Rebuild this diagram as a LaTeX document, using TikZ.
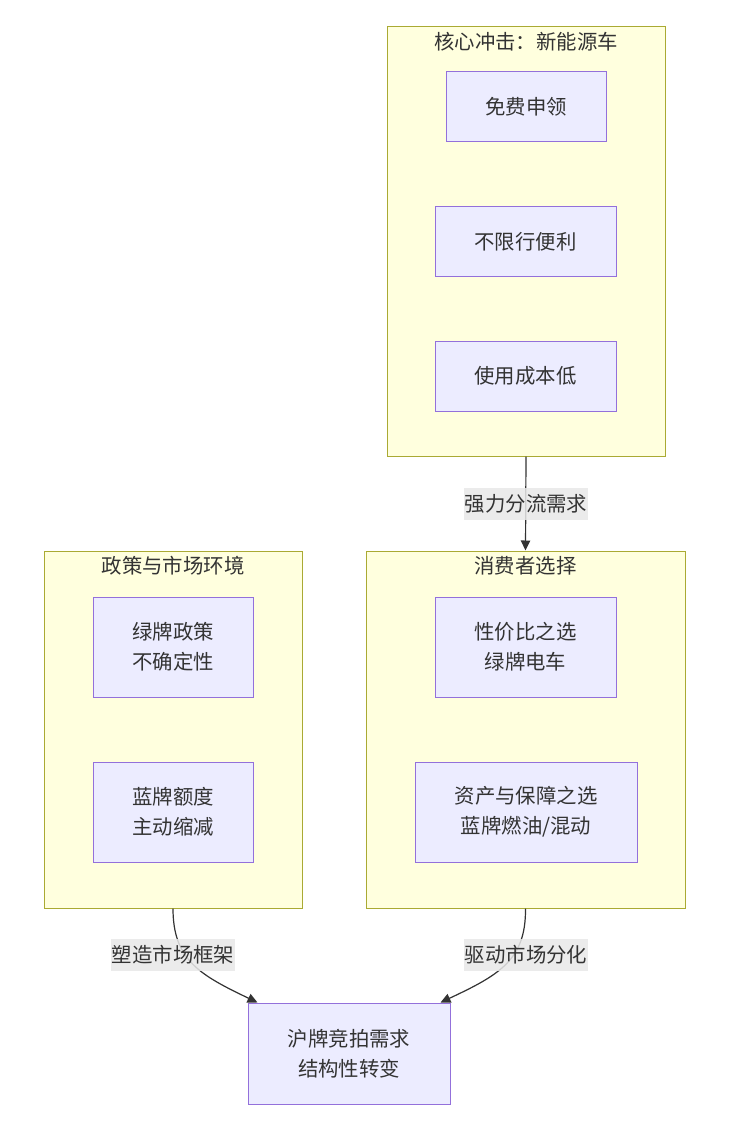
\documentclass[tikz,border=0pt]{standalone}
\usepackage{fontspec}
\newfontfamily\cjk{Noto Sans CJK SC}
\usetikzlibrary{arrows.meta}
\definecolor{clfill}{HTML}{FFFFDE}
\definecolor{clline}{HTML}{AAAA33}
\definecolor{ndfill}{HTML}{ECECFF}
\definecolor{ndline}{HTML}{9370DB}
\definecolor{txt}{HTML}{333333}
\definecolor{lblbg}{HTML}{E8E8E8}
\tikzset{
  cluster/.style={draw=clline, fill=clfill, line width=0.75pt, inner sep=0pt},
  box/.style={draw=ndline, fill=ndfill, line width=0.75pt, inner sep=0pt, align=center,
    text=txt, font=\cjk\fontsize{15.3}{22.5}\selectfont},
  ttl/.style={text=txt, font=\cjk\fontsize{15.3}{18}\selectfont, inner sep=0pt},
  edge/.style={draw=txt, line width=0.9pt, -{Triangle[length=7.5pt,width=7pt]}},
  elabel/.style={fill=lblbg, fill opacity=0.85, text opacity=1, text=txt,
    font=\cjk\fontsize{15.3}{18}\selectfont, inner xsep=0.5pt, inner ysep=0pt,
    minimum height=24pt}
}
\begin{document}
\begin{tikzpicture}[x=0.75pt,y=-0.75pt]
\useasboundingbox (0,0) rectangle (733,1127);
% clusters
\node[cluster, minimum width=208.5pt, minimum height=321.75pt] (c1) at (526,241.5) {};
\node[cluster, minimum width=193.5pt, minimum height=267.75pt] (c2) at (173,729.5) {};
\node[cluster, minimum width=239.25pt, minimum height=267.75pt] (c3) at (525.5,729.5) {};
\node[ttl] (t1) at (526,42) {核心冲击：新能源车};
\node[ttl] (t2) at (173,566) {政策与市场环境};
\node[ttl] (t3) at (525.5,566) {消费者选择};
% nodes
\node[box, minimum width=120pt, minimum height=52.5pt] (n1) at (526,107) {免费申领};
\node[box, minimum width=135.75pt, minimum height=52.5pt] (n2) at (525.5,241.5) {不限行便利};
\node[box, minimum width=135.75pt, minimum height=52.5pt] (n3) at (525.5,376) {使用成本低};
\node[box, minimum width=120pt, minimum height=75pt] (n4) at (173,647) {绿牌政策\\不确定性};
\node[box, minimum width=120pt, minimum height=75pt] (n5) at (173,812) {蓝牌额度\\主动缩减};
\node[box, minimum width=135.75pt, minimum height=75pt] (n6) at (525.5,647) {性价比之选\\绿牌电车};
\node[box, minimum width=166.5pt, minimum height=75pt] (n7) at (526,812) {资产与保障之选\\蓝牌燃油/混动};
\node[box, minimum width=151.5pt, minimum height=75.75pt] (n8) at (349,1053.5) {沪牌竞拍需求\\结构性转变};
% edges
\draw[edge] (c1.south) -- (c3.north);
\node[elabel] (l1) at (526,504) {强力分流需求};
\draw[edge] (c2.south) .. controls (173,960) and (200,975) .. ([xshift=7.5pt]n8.north west);
\node[elabel] (l2) at (173,955) {塑造市场框架};
\draw[edge] (c3.south) .. controls (526,960) and (499,975) .. ([xshift=-7.5pt]n8.north east);
\node[elabel] (l3) at (526,955) {驱动市场分化};
\end{tikzpicture}
\end{document}
